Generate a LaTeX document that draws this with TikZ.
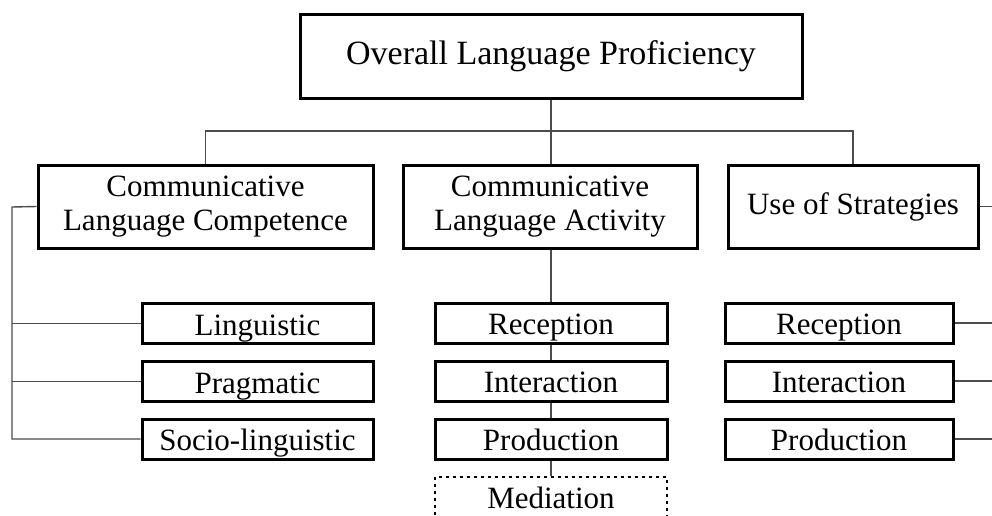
\documentclass[tikz,border=0pt]{standalone}
\usepackage{fontspec}
\setmainfont{Liberation Serif}
\usepackage{tikz}
\usetikzlibrary{calc, positioning}

\tikzset{
    box/.style={draw, line width=1.5pt, fill=white, inner sep=0pt, align=center,
        font=\fontsize{15.5}{17}\selectfont},
    leaf/.style={box, minimum height=20pt, text height=11.5pt, text depth=0pt},
    link/.style={draw=black!70, line width=0.7pt},
}

\begin{document}
\begin{tikzpicture}[x=0.5pt, y=-0.5pt]
            \useasboundingbox (0, 0) rectangle (992, 515);
            \clip (0, 0) rectangle (992, 515);
            \fill[white] (0, 0) rectangle (992, 515);

            % top
            \node[box, minimum width=251pt, minimum height=42pt, font=\fontsize{17}{19}\selectfont] (olp) at (551, 56) {Overall Language Proficiency};

            % second level
            \node[box, minimum width=167.5pt, minimum height=41.5pt] (clc) at (205.5, 206.5) {Communicative\\Language Competence};
            \node[box, minimum width=147pt, minimum height=41.5pt] (cla) at (550, 206.5) {Communicative\\Language Activity};
            \node[box, minimum width=125pt, minimum height=41.5pt] (uos) at (853, 206.5) {Use of Strategies};

            % competence
            \node[leaf, minimum width=115.5pt] (ling) at (257.5, 323.5) {Linguistic};
            \node[leaf, minimum width=115.5pt] (prag) at (257.5, 381.5) {Pragmatic};
            \node[leaf, minimum width=115.5pt] (soc) at (257.5, 439) {Socio-linguistic};

            % activity
            \node[leaf, minimum width=116pt] (rec) at (551, 323) {Reception};
            \node[leaf, minimum width=116pt] (int) at (551, 381) {Interaction};
            \node[leaf, minimum width=116pt] (pro) at (551, 439) {Production};
            \node[leaf, dotted, line width=1.2pt, minimum width=116pt] (med) at (551, 497) {Mediation};

            % strategies
            \node[leaf, minimum width=114pt] (srec) at (839, 323) {Reception};
            \node[leaf, minimum width=114pt] (sint) at (839, 381) {Interaction};
            \node[leaf, minimum width=114pt] (spro) at (839, 439) {Production};

            \coordinate (bus) at (551, 131);
            \coordinate (lft) at (12, 207);
            \coordinate (rgt) at (1000, 207);

            \draw[link] (olp.south) -- (bus);
            \draw[link] (clc.north) |- (bus) -| (uos.north);
            \draw[link] (bus) -- (bus |- cla.north);

            \draw[link] (clc.west) -- (lft) |- (soc.west);
            \draw[link] (lft |- ling) -- (ling.west);
            \draw[link] (lft |- prag) -- (prag.west);

            \draw[link] (cla.south -| rec) -- (rec.north);
            \draw[link] (rec.south) -- (int.north);
            \draw[link] (int.south) -- (pro.north);
            \draw[link] (pro.south) -- (med.north);

            \draw[link] (uos.east) -- (rgt |- uos);
            \draw[link] (srec.east) -- (rgt |- srec);
            \draw[link] (sint.east) -- (rgt |- sint);
            \draw[link] (spro.east) -- (rgt |- spro);
        \end{tikzpicture}
\end{document}
